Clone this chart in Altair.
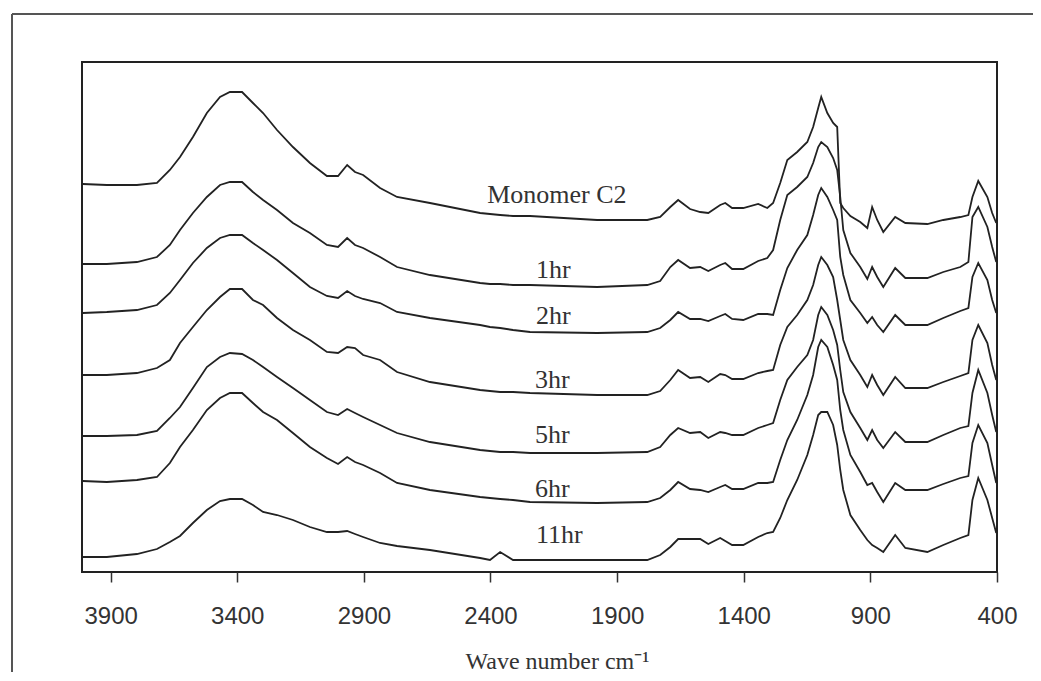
import altair as alt
import pandas as pd

# Wavenumber grid (cm-1)
WAVENUMBER = [4010, 3915, 3796, 3717, 3666, 3626, 3575, 3520, 3468, 3429,
              3381, 3338, 3298, 3243, 3180, 3113, 3046, 3002, 2966, 2935,
              2903, 2836, 2769, 2639, 2441, 2402, 2362, 2311, 2244, 1979,
              1781, 1730, 1690, 1659, 1612, 1572, 1540, 1493, 1473, 1446,
              1402, 1343, 1307, 1284, 1256, 1228, 1189, 1149, 1126, 1106,
              1094, 1070, 1047, 1031, 1019, 1007, 979, 940, 912, 893,
              873, 849, 802, 762, 675, 612, 545, 513, 497, 474,
              438, 419, 403]

# Offset spectra (arbitrary units)
MONOMER_C2 = [388, 387, 387, 389, 402, 415, 435, 459, 475, 480,
              480, 469, 459, 442, 425, 409, 396, 396, 407, 400,
              397, 384, 375, 369, 359, 358, 357, 356, 356, 352,
              352, 355, 365, 372, 363, 360, 359, 367, 369, 364,
              364, 368, 364, 369, 389, 412, 420, 430, 445, 464,
              475, 459, 449, 445, 369, 364, 356, 350, 344, 365,
              352, 340, 355, 349, 348, 352, 355, 357, 375, 391,
              375, 359, 349]
HR1 = [308, 308, 310, 315, 327, 342, 359, 375, 387, 390,
       390, 380, 372, 362, 349, 339, 327, 325, 334, 327,
       324, 315, 305, 297, 289, 288, 288, 287, 287, 285,
       287, 291, 305, 312, 304, 305, 301, 307, 309, 303,
       303, 311, 314, 322, 352, 377, 385, 395, 409, 425,
       430, 425, 414, 402, 375, 342, 319, 305, 293, 305,
       295, 285, 304, 294, 294, 300, 305, 310, 355, 365,
       345, 325, 310]
HR2 = [259, 260, 262, 267, 279, 292, 309, 324, 334, 337,
       337, 329, 322, 312, 299, 285, 276, 274, 281, 276,
       273, 269, 260, 254, 247, 245, 244, 242, 240, 239,
       240, 244, 252, 260, 253, 253, 251, 256, 258, 253,
       252, 258, 258, 257, 282, 304, 322, 337, 357, 377,
       384, 375, 362, 352, 315, 297, 272, 259, 249, 255,
       247, 240, 257, 247, 247, 254, 261, 264, 295, 309,
       292, 272, 259]
HR3 = [197, 197, 199, 204, 212, 229, 245, 262, 275, 283,
       283, 272, 267, 254, 242, 232, 220, 219, 225, 224,
       217, 212, 200, 190, 182, 181, 180, 180, 179, 177,
       177, 181, 192, 202, 194, 195, 190, 198, 197, 193,
       193, 199, 201, 202, 227, 245, 257, 272, 287, 307,
       315, 307, 295, 272, 252, 232, 212, 197, 185, 197,
       187, 177, 195, 184, 184, 190, 196, 199, 232, 247,
       229, 207, 192]
HR5 = [136, 136, 137, 141, 154, 165, 184, 205, 215, 219,
       218, 212, 205, 195, 184, 172, 160, 157, 163, 159,
       155, 147, 139, 130, 122, 121, 120, 120, 119, 119,
       120, 125, 137, 144, 139, 140, 134, 140, 139, 137,
       137, 144, 147, 149, 172, 192, 205, 217, 232, 257,
       265, 257, 242, 227, 202, 180, 160, 144, 132, 142,
       132, 124, 140, 130, 130, 137, 144, 146, 179, 202,
       179, 157, 140]
HR6 = [91, 90, 92, 95, 109, 125, 142, 162, 174, 179,
       179, 169, 160, 152, 139, 125, 114, 108, 115, 110,
       107, 99, 89, 82, 75, 74, 73, 72, 70, 69,
       70, 74, 82, 90, 83, 82, 80, 85, 87, 83,
       83, 89, 89, 90, 112, 132, 152, 177, 197, 225,
       232, 225, 207, 192, 162, 142, 117, 100, 87, 89,
       80, 70, 89, 82, 82, 88, 94, 96, 129, 147,
       129, 107, 89]
HR11 = [15, 15, 18, 23, 30, 36, 49, 62, 71, 73,
        73, 67, 60, 57, 52, 45, 40, 40, 41, 38,
        35, 29, 26, 22, 14, 12, 20, 12, 12, 12,
        12, 17, 25, 33, 33, 33, 28, 34, 31, 27,
        27, 35, 39, 40, 54, 72, 92, 117, 137, 157,
        160, 160, 147, 127, 102, 82, 57, 42, 32, 27,
        24, 20, 37, 24, 20, 27, 34, 37, 72, 94,
        72, 54, 39]

SERIES = {"Monomer C2": MONOMER_C2, "1hr": HR1, "2hr": HR2, "3hr": HR3,
          "5hr": HR5, "6hr": HR6, "11hr": HR11}

LABELS = ["Monomer C2", "1hr", "2hr", "3hr", "5hr", "6hr", "11hr"]
LABEL_WN = [2413, 2220, 2220, 2224, 2224, 2224, 2220]
LABEL_Y = [369, 294, 248, 184, 129, 75, 29]

TICKS = [3900, 3400, 2900, 2400, 1900, 1400, 900, 400]

rows = []
for name, vals in SERIES.items():
    for wn, v in zip(WAVENUMBER, vals):
        rows.append({"series": name, "wn": wn, "a": v})
df = pd.DataFrame(rows)
lab = pd.DataFrame({"label": LABELS, "wn": LABEL_WN, "a": LABEL_Y})

W, H = 915, 510
xscale = alt.Scale(domain=[400, 4013], reverse=True, nice=False, zero=False)
yscale = alt.Scale(domain=[0, 510], nice=False, zero=False)

xaxis = alt.Axis(values=TICKS, format="d", title="Wave number cm\u207b\u00b9",
                 grid=False, domain=False, tickSize=10, tickWidth=1.5,
                 tickColor="#333", labelFont="Liberation Sans", labelFontSize=24,
                 labelColor="#333", labelBaseline="alphabetic", labelPadding=41,
                 labelFlush=False, titleFont="Liberation Serif", titleFontSize=24,
                 titleFontWeight="normal", titleColor="#333",
                 titleBaseline="alphabetic", titleY=96, titleX=475,
                 titleAlign="center")

lines = alt.Chart(df).mark_line(color="#222", strokeWidth=1.8).encode(
    x=alt.X("wn:Q", scale=xscale, axis=xaxis),
    y=alt.Y("a:Q", scale=yscale, axis=None),
    detail="series:N",
    order="wn:Q",
)

texts = alt.Chart(lab).mark_text(font="Liberation Serif", fontSize=26,
                                 align="left", baseline="alphabetic",
                                 color="#333").encode(
    x=alt.X("wn:Q", scale=xscale),
    y=alt.Y("a:Q", scale=yscale),
    text="label:N",
)

frame_df = pd.DataFrame({"k": [0]})
frame_top = alt.Chart(frame_df).mark_rule(color="#555", strokeWidth=2).encode(
    x=alt.value(-70), x2=alt.value(1000), y=alt.value(-48))
frame_left = alt.Chart(frame_df).mark_rule(color="#555", strokeWidth=2).encode(
    x=alt.value(-70), y=alt.value(-48), y2=alt.value(700))

chart = alt.layer(frame_top, frame_left, lines, texts).properties(
    width=W, height=H,
    background="white",
    padding={"left": 74, "top": 54, "right": 36, "bottom": 100},
    autosize=alt.AutoSizeParams(type="none"),
).configure_view(stroke="#222", strokeWidth=2)

chart.save("out.html", embed_options={"renderer": "svg", "actions": False})
